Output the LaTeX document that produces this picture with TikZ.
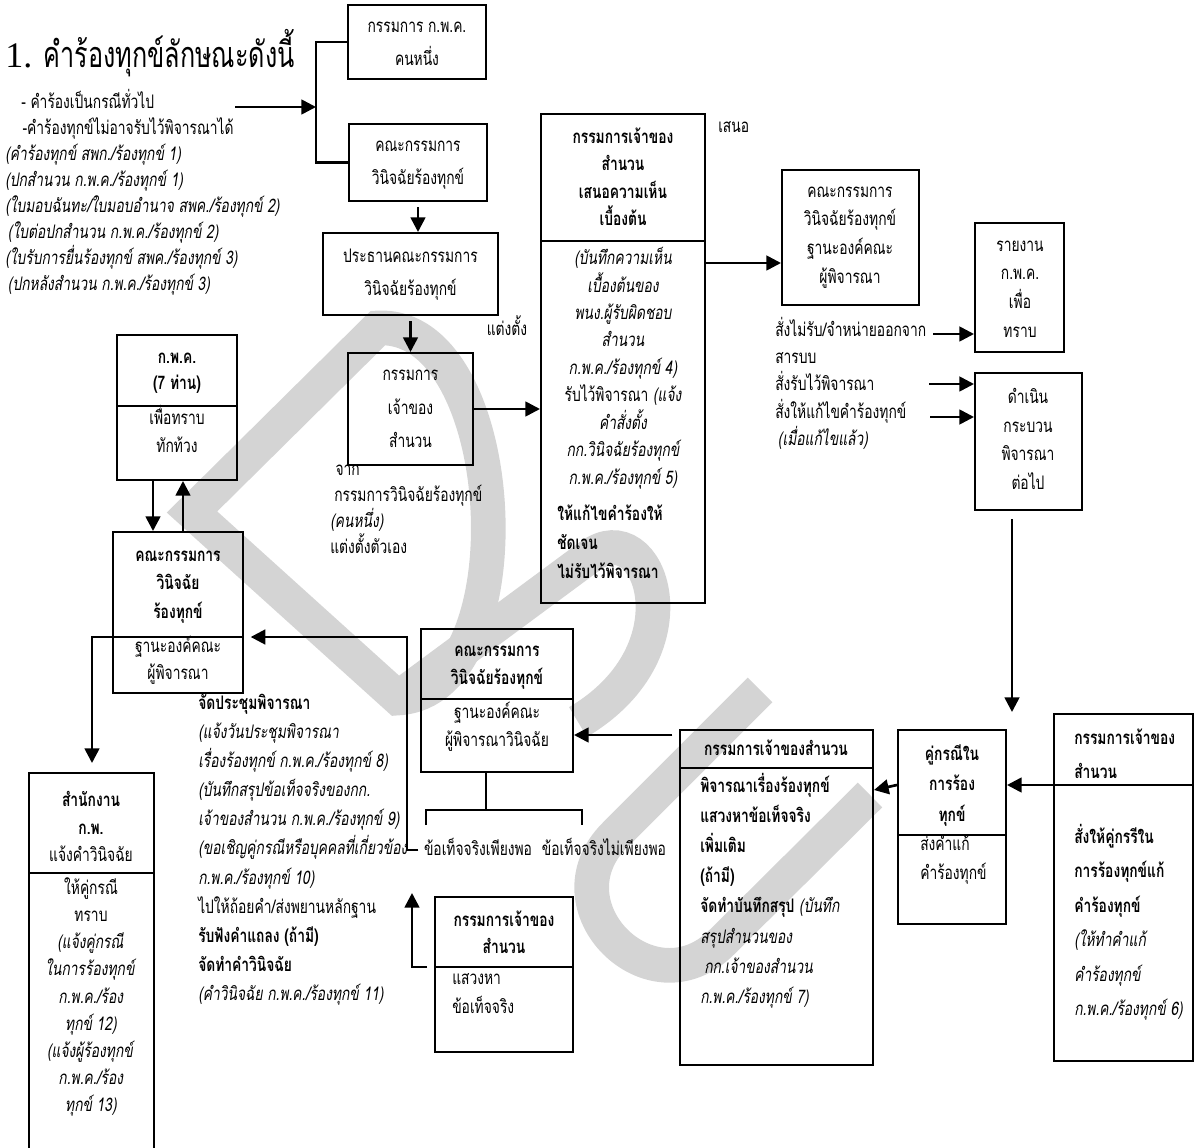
\documentclass[tikz,border=0pt]{standalone}
\usepackage{fontspec}
\setmainfont{Liberation Serif}
\newfontfamily\thfont[Script=Thai,FakeStretch=0.74]{Loma}
\newfontfamily\thtitle[Script=Thai,FakeStretch=0.7]{Loma}
\usetikzlibrary{arrows.meta,fit}
\definecolor{wmgray}{RGB}{212,212,212}
\newcommand\vst{\rule[-0.45em]{0pt}{1.45em}}
\tikzset{
  frame/.style={draw, line width=1.5pt, inner sep=0pt},
  divl/.style={line width=1.5pt},
  conn/.style={line width=2pt},
  arr/.style={conn, -{Triangle[length=11pt,width=11pt]}},
  wm/.style={draw=wmgray, line width=26pt, line join=miter},
  tx/.style={inner sep=0pt, align=center, execute at begin node=\vst, execute at end node=\vst},
  fr/.style={font={\thfont\fontsize{14}{#1}\selectfont\lineskiplimit=-100pt}},
  fb/.style={font={\thfont\bfseries\fontsize{14}{#1}\selectfont\lineskiplimit=-100pt}},
  fi/.style={font={\thfont\itshape\fontsize{14}{#1}\selectfont\lineskiplimit=-100pt}},
}
\begin{document}
\begin{tikzpicture}[x=0.75pt,y=-0.75pt]
\useasboundingbox (0,0) rectangle (1200,1148);
\clip (0,0) rectangle (1200,1148);

% background watermark
\draw[wm] (378,328) -- (192,512) -- (398,698) .. controls (531,691) and (511,321) .. (378,328) -- cycle;
\draw[wm] (398,698) -- (590,556) .. controls (650,512) and (700,650) .. (578,722);
\draw[wm] (760,690) -- (615,835) .. controls (544,906) and (651,1013) .. (722,942) -- (870,795);

% title and list of forms
\node[inner sep=0pt, anchor=base west, font=\thtitle\fontsize{27}{30}\selectfont] (title) at (5,68) {{\rmfamily 1.} คำร้องทุกข์ลักษณะดังนี้};
\node[tx, fr=19.5pt, align=left, anchor=west] (t0) at (5,194) {\hspace*{12pt}- คำร้องเป็นกรณีทั่วไป\\\hspace*{13pt}-คำร้องทุกข์ไม่อาจรับไว้พิจารณาได้\\\textit{(คำร้องทุกข์ สพก./ร้องทุกข์ 1)}\\\textit{(ปกสำนวน ก.พ.ค./ร้องทุกข์ 1)}\\\textit{(ใบมอบฉันทะ/ใบมอบอำนาจ สพค./ร้องทุกข์ 2)}\\\hspace*{2pt}\textit{(ใบต่อปกสำนวน ก.พ.ค./ร้องทุกข์ 2)}\\\textit{(ใบรับการยื่นร้องทุกข์ สพค./ร้องทุกข์ 3)}\\\hspace*{2pt}\textit{(ปกหลังสำนวน ก.พ.ค./ร้องทุกข์ 3)}};

% frames
\node[frame, fit={(348,5) (486,79)}] (b1) {};
\node[frame, fit={(349,124) (487,201)}] (b2) {};
\node[frame, fit={(323,233) (498,315)}] (b3) {};
\node[frame, fit={(348,353) (473,465)}] (b4) {};
\node[frame, fit={(541,114) (705,603)}] (b5) {};
\node[frame, fit={(782,170) (919,305)}] (b6) {};
\node[frame, fit={(975,223) (1064,352)}] (b7) {};
\node[frame, fit={(975,373) (1082,510)}] (b8) {};
\node[frame, fit={(117,335) (237,480)}] (b9) {};
\node[frame, fit={(113,532) (243,693)}] (b10) {};
\node[frame, fit={(29,773) (154,1165)}] (b11) {};
\node[frame, fit={(421,629) (573,772)}] (b12) {};
\node[frame, fit={(680,730) (873,1065)}] (b13) {};
\node[frame, fit={(898,730) (1006,924)}] (b14) {};
\node[frame, fit={(1054,714) (1193,1061)}] (b15) {};
\node[frame, fit={(435,897) (573,1052)}] (b16) {};

% dividers inside split frames
\draw[divl] (b5.west |- 0,241) -- (b5.east |- 0,241);
\draw[divl] (b9.west |- 0,406) -- (b9.east |- 0,406);
\draw[divl] (b10.west |- 0,637) -- (b10.east |- 0,637);
\draw[divl] (b11.west |- 0,873) -- (b11.east |- 0,873);
\draw[divl] (b12.west |- 0,699) -- (b12.east |- 0,699);
\draw[divl] (b13.west |- 0,768) -- (b13.east |- 0,768);
\draw[divl] (b14.west |- 0,835) -- (b14.east |- 0,835);
\draw[divl] (b15.west |- 0,785) -- (b15.east |- 0,785);
\draw[divl] (b16.west |- 0,967) -- (b16.east |- 0,967);

% frame texts
\node[tx, fr=24.75pt] (t1) at (417,47.5) {กรรมการ ก.พ.ค.\\คนหนึ่ง};
\node[tx, fr=24.75pt] (t2) at (418,166.5) {คณะกรรมการ\\วินิจฉัยร้องทุกข์};
\node[tx, fr=24.75pt] (t3) at (410.5,276.5) {ประธานคณะกรรมการ\\วินิจฉัยร้องทุกข์};
\node[tx, fr=25.1pt] (t4) at (410.5,413) {กรรมการ\\เจ้าของ\\สำนวน};
\node[tx, fb=20.5pt] (t5a) at (623,181) {กรรมการเจ้าของ\\สำนวน\\เสนอความเห็น\\เบื้องต้น};
\node[tx, fi=20.6pt] (t5b) at (623,370) {(บันทึกความเห็น\\เบื้องต้นของ\\พนง.ผู้รับผิดชอบ\\สำนวน\\ก.พ.ค./ร้องทุกข์ 4)\\\textup{รับไว้พิจารณา} (แจ้ง\\คำสั่งตั้ง\\กก.วินิจฉัยร้องทุกข์\\ก.พ.ค./ร้องทุกข์ 5)};
\node[tx, fb=21.75pt, align=left, anchor=west] (t5c) at (557,546) {ให้แก้ไขคำร้องให้\\ชัดเจน\\ไม่รับไว้พิจารณา};
\node[tx, fr=21.5pt] (t6) at (850,239) {คณะกรรมการ\\วินิจฉัยร้องทุกข์\\ฐานะองค์คณะ\\ผู้พิจารณา};
\node[tx, fr=20.4pt, align=left, anchor=west] (t6b) at (775,385.5) {สั่งไม่รับ/จำหน่ายออกจาก\\สารบบ\\สั่งรับไว้พิจารณา\\สั่งให้แก้ไขคำร้องทุกข์\\\hspace*{2pt}\textit{(เมื่อแก้ไขแล้ว)}};
\node[tx, fr=21.5pt] (t7) at (1020,293) {รายงาน\\ก.พ.ค.\\เพื่อ\\ทราบ};
\node[tx, fr=21.5pt] (t8) at (1028,443) {ดำเนิน\\กระบวน\\พิจารณา\\ต่อไป};
\node[tx, fb=19.5pt] (t9a) at (177,375) {ก.พ.ค.\\(7 ท่าน)};
\node[tx, fr=21pt] (t9b) at (177,433) {เพื่อทราบ\\ทักท้วง};
\node[tx, fb=21.4pt] (t10a) at (178,588.5) {คณะกรรมการ\\วินิจฉัย\\ร้องทุกข์};
\node[tx, fr=20.25pt] (t10b) at (178,662) {ฐานะองค์คณะ\\ผู้พิจารณา};
\node[tx, fr=20.6pt] (t11a) at (91,831) {\textbf{สำนักงาน}\\\textbf{ก.พ.}\\แจ้งคำวินิจฉัย};
\node[tx, fr=20.4pt] (t11b) at (91,999) {ให้คู่กรณี\\ทราบ\\\textit{(แจ้งคู่กรณี}\\\textit{ในการร้องทุกข์}\\\textit{ก.พ.ค./ร้อง}\\\textit{ทุกข์ 12)}\\\textit{(แจ้งผู้ร้องทุกข์}\\\textit{ก.พ.ค./ร้อง}\\\textit{ทุกข์ 13)}};
\node[tx, fb=21pt] (t12a) at (497,669) {คณะกรรมการ\\วินิจฉัยร้องทุกข์};
\node[tx, fr=21pt] (t12b) at (497,729) {ฐานะองค์คณะ\\ผู้พิจารณาวินิจฉัย};
\node[tx, fb=20pt] (t13a) at (776,750) {กรรมการเจ้าของสำนวน};
\node[tx, fr=22.6pt, align=left, anchor=west] (t13b) at (700,892.5) {\textbf{พิจารณาเรื่องร้องทุกข์}\\\textbf{แสวงหาข้อเท็จจริง}\\\textbf{เพิ่มเติม}\\\textbf{(ถ้ามี)}\\\textbf{จัดทำบันทึกสรุป} \textit{(บันทึก}\\\textit{สรุปสำนวนของ}\\\hspace*{3pt}\textit{กก.เจ้าของสำนวน}\\\textit{ก.พ.ค./ร้องทุกข์ 7)}};
\node[tx, fb=22.9pt] (t14a) at (952,787) {คู่กรณีใน\\การร้อง\\ทุกข์};
\node[tx, fr=21.75pt, align=left, anchor=west] (t14b) at (920,861.5) {ส่งคำแก้\\คำร้องทุกข์};
\node[tx, fb=25.5pt, align=left, anchor=west] (t15a) at (1074,758) {กรรมการเจ้าของ\\สำนวน};
\node[tx, fr=25.8pt, align=left, anchor=west] (t15b) at (1074,924) {\textbf{สั่งให้คู่กรรีใน}\\\textbf{การร้องทุกข์แก้}\\\textbf{คำร้องทุกข์}\\\textit{(ให้ทำคำแก้}\\\textit{คำร้องทุกข์}\\\textit{ก.พ.ค./ร้องทุกข์ 6)}};
\node[tx, fb=20.25pt] (t16a) at (504,936.5) {กรรมการเจ้าของ\\สำนวน};
\node[tx, fr=21.75pt, align=left, anchor=west] (t16b) at (452,997.5) {แสวงหา\\ข้อเท็จจริง};

% free texts
\node[tx, fr=21.8pt, align=left, anchor=west] (t17) at (198,851.5) {\textbf{จัดประชุมพิจารณา}\\\textit{(แจ้งวันประชุมพิจารณา}\\\textit{เรื่องร้องทุกข์ ก.พ.ค./ร้องทุกข์ 8)}\\\textit{(บันทึกสรุปข้อเท็จจริงของกก.}\\\textit{เจ้าของสำนวน ก.พ.ค./ร้องทุกข์ 9)}\\\textit{(ขอเชิญคู่กรณีหรือบุคคลที่เกี่ยวข้อง}\\\textit{ก.พ.ค./ร้องทุกข์ 10)}\\ไปให้ถ้อยคำ/ส่งพยานหลักฐาน\\\textbf{รับฟังคำแถลง (ถ้ามี)}\\\textbf{จัดทำคำวินิจฉัย}\\\textit{(คำวินิจฉัย ก.พ.ค./ร้องทุกข์ 11)}};
\node[tx, fr=19.7pt, align=left, anchor=west] (t18) at (330,513.5) {\hspace*{4pt}จาก\\\hspace*{3pt}กรรมการวินิจฉัยร้องทุกข์\\\textit{(คนหนึ่ง)}\\แต่งตั้งตัวเอง};
\node[tx, fr=20pt] (t19) at (507,330) {แต่งตั้ง};
\node[tx, fr=20pt, anchor=west] (t20) at (718,127) {เสนอ};
\node[tx, fr=20pt] (f1) at (478,850) {ข้อเท็จจริงเพียงพอ};
\node[tx, fr=20pt] (f2) at (604,850) {ข้อเท็จจริงไม่เพียงพอ};

% connector end points
\coordinate (a0) at (235,107);
\coordinate (a1) at (316,107);
\coordinate (s1) at (933,334);
\coordinate (s2) at (929,384);
\coordinate (s3) at (930,417);
\coordinate (d1) at (1012,712);
\coordinate (k) at (486,810);
\coordinate (k1) at (426,825);
\coordinate (k2) at (582,825);
\coordinate (v1) at (407,850);
\coordinate (u0) at (427,967);
\coordinate (u1) at (412,893);
\coordinate (e1) at (92,763);

% connectors
\draw[arr] (a0) -- (a1);
\draw[conn] (b1.west) -- (b1.west -| a1) -- (b2.west -| a1) -- (b2.west);
\draw[arr, shorten <=4pt] (b2.south) -- (b2.south |- b3.north);
\draw[arr, shorten <=4pt] (b3.south) -- (b3.south |- b4.north);
\draw[arr] (b4.east) -- (b4.east -| b5.west);
\draw[arr] (b5.east |- 0,263) -- (b6.west |- 0,263);
\draw[arr] (s1) -- (s1 -| b7.west);
\draw[arr] (s2) -- (s2 -| b8.west);
\draw[arr] (s3) -- (s3 -| b8.west);
\draw[arr, shorten <=6pt] (b8.south -| d1) -- (d1);
\draw[arr] (b15.west |- 0,785) -- (b14.east |- 0,785);
\draw[arr] (b14.west |- 0,785) -- (b13.east |- 0,790);
\draw[arr, shorten <=5pt] (b13.west |- 0,735) -- (b12.east |- 0,735);
\draw[conn] (b12.south -| k) -- (k);
\draw[conn] (k1) -- (k1 |- k) -- (k2 |- k) -- (k2);
\draw[arr, shorten >=5pt] ([xshift=-4pt]f1.west) -- (v1) |- (b10.east |- 0,637);
\draw[arr] (u0) -| (u1);
\draw[arr] (b10.west |- 0,637) -| (e1);
\draw[arr] (b9.south -| 153,0) -- (b10.north -| 153,0);
\draw[arr] (b10.north -| 183,0) -- (b9.south -| 183,0);
\end{tikzpicture}
\end{document}
